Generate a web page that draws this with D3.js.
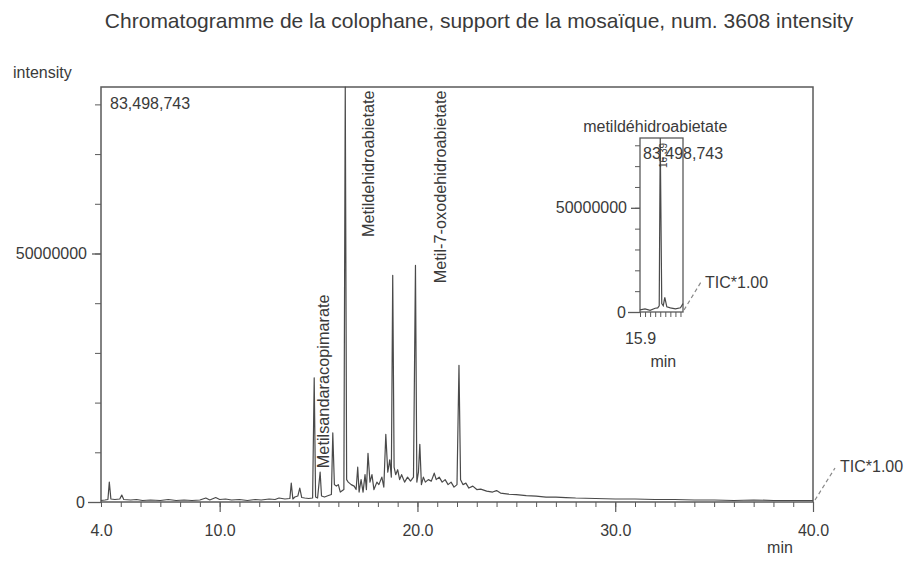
<!DOCTYPE html>
<html><head><meta charset="utf-8">
<script src="https://cdn.jsdelivr.net/npm/d3@7"></script>
<style>
html,body{margin:0;padding:0;background:#fff;}
svg{display:block;font-family:"Liberation Sans", Arial, Helvetica, sans-serif;}
</style></head><body>
<svg id="chart" width="906" height="566"></svg>
<script>
// ---------- DATA ----------
const titleText = "Chromatogramme de la colophane, support de la mosaïque, num. 3608 intensity";
const yAxisTitle = "intensity";
const xAxisTitle = "min";
const maxLabel = "83,498,743";
const ticLabel = "TIC*1.00";

// retention time (min)
const times = [4.0,4.2,4.35,4.42,4.5,4.7,4.95,5.05,5.15,5.5,5.8,6.1,6.5,7.0,7.4,7.8,8.2,8.6,9.0,9.3,9.5,9.8,10.0,10.3,10.6,11.0,11.4,11.8,12.1,12.5,12.8,13.0,13.3,13.55,13.62,13.7,13.8,13.95,14.05,14.15,14.3,14.5,14.7,14.78,14.85,14.95,15.08,15.15,15.3,15.5,15.65,15.72,15.8,15.9,16.0,16.1,16.28,16.35,16.42,16.5,16.65,16.8,16.9,16.98,17.05,17.15,17.25,17.35,17.42,17.5,17.6,17.7,17.8,17.95,18.05,18.2,18.3,18.4,18.5,18.6,18.68,18.75,18.82,18.9,19.0,19.1,19.2,19.35,19.5,19.65,19.8,19.9,19.97,20.05,20.12,20.2,20.3,20.4,20.55,20.7,20.85,20.95,21.1,21.25,21.4,21.55,21.7,21.85,22.0,22.1,22.18,22.3,22.45,22.6,22.8,23.0,23.2,23.5,23.8,24.0,24.2,24.6,25.0,25.5,26.0,26.5,27.0,27.5,28.0,29.0,30.0,31.0,32.0,33.0,34.0,35.0,36.0,37.0,38.0,39.0,40.0];
// intensity (millions of counts)
const intensityM = [0.3,0.4,0.5,4.0,0.6,0.5,0.6,1.4,0.5,0.4,0.5,0.3,0.4,0.3,0.5,0.3,0.4,0.3,0.4,0.8,0.4,0.9,0.5,0.6,0.4,0.5,0.3,0.5,0.4,0.6,0.5,0.8,0.6,0.7,3.8,0.6,1.0,1.2,2.8,0.9,0.8,0.7,0.8,25.0,1.0,0.8,6.0,1.2,1.0,1.3,1.5,13.9,3.5,3.2,3.5,2.0,2.5,83.5,4.5,4.0,3.5,3.2,2.5,7.0,2.0,4.5,2.0,5.5,2.5,9.8,4.0,5.5,2.5,4.0,3.5,5.0,3.0,13.6,6.0,8.5,5.0,45.6,7.0,5.5,6.5,4.5,5.5,4.0,5.0,4.2,5.0,47.6,4.0,6.0,11.6,3.5,5.0,4.0,4.5,4.2,5.8,4.5,5.0,4.0,4.5,3.5,4.0,3.0,3.5,27.5,4.5,3.5,3.8,2.8,3.2,2.5,2.6,2.2,2.0,2.3,1.8,1.6,1.5,1.3,1.2,1.0,1.0,0.9,0.8,0.7,0.6,0.6,0.5,0.5,0.4,0.4,0.3,0.4,0.3,0.3,0.3];

const xLabelTicks = [4, 10, 20, 30, 40];
const xMinorTicks = [4,5,6,7,8,9,10,11,12,13,14,15,16,17,18,19,20,21,22,23,24,25,26,27,28,29,30,31,32,33,34,35,36,37,38,39,40];
const yTicksM = [0, 10, 20, 30, 40, 50, 60, 70, 80];
const yLabelTicksM = [0, 50];

// peak annotations
const peakNames = ["Metilsandaracopimarate", "Metildehidroabietate", "Metil-7-oxodehidroabietate"];
const peakLabelTimes = [15.53, 17.8, 21.45];
const peakLabelIntensity = [6.8, 53.3, 44.0];

// inset (zoom on main peak)
const insetTitle = "metildéhidroabietate";
const insetPeakLabel = "16.39";
const insetTimes = [15.9,16.0,16.1,16.2,16.25,16.28,16.3,16.33,16.36,16.39,16.43,16.5,16.6,16.7,16.75];
const insetIntensityM = [1.0,1.5,0.8,1.8,2.0,3.0,83.5,4.0,3.0,7.0,2.5,2.0,1.5,2.0,4.0];
const insetXMinor = [15.9,16.0,16.1,16.2,16.3,16.4,16.5,16.6,16.7];
const insetXLabel = [15.9];

// ---------- DRAW ----------
const svg = d3.select("#chart");
const ink = "#3a3a3a", lineC = "#4a4a4a", axisC = "#5a5a5a";
const FONT = "Liberation Sans, Arial, sans-serif";
const fmt = d => d === 0 ? "0" : String(d * 1e6);

svg.append("text").attr("x", 479).attr("y", 28).attr("text-anchor", "middle")
  .attr("font-size", 21).attr("fill", ink).text(titleText);
svg.append("text").attr("x", 13).attr("y", 78).attr("font-size", 16).attr("fill", ink).text(yAxisTitle);
svg.append("text").attr("x", 780).attr("y", 553).attr("text-anchor", "middle").attr("font-size", 16).attr("fill", ink).text(xAxisTitle);

const x = d3.scaleLinear().domain([4, 40]).range([101, 813]);
const y = d3.scaleLinear().domain([0, 83.498743]).range([502, 87]);

// frame
svg.append("rect").attr("x", x(4)).attr("y", y(83.498743)).attr("width", x(40) - x(4)).attr("height", y(0) - y(83.498743))
  .attr("fill", "none").attr("stroke", axisC).attr("stroke-width", 1.5);

// x ticks
const xAx = svg.append("g").attr("transform", `translate(0,${y(0)})`);
xAx.call(d3.axisBottom(x).tickValues(xMinorTicks).tickSize(5).tickFormat(""));
xAx.call(g => g.select(".domain").remove());
xAx.selectAll("line").attr("stroke", axisC);
const xAx2 = svg.append("g").attr("transform", `translate(0,${y(0)})`);
xAx2.call(d3.axisBottom(x).tickValues(xLabelTicks).tickSize(10).tickPadding(13).tickFormat(d3.format(".1f")));
xAx2.call(g => g.select(".domain").remove());
xAx2.selectAll("line").attr("stroke", axisC).attr("stroke-width", 1.2);
xAx2.selectAll("text").attr("font-size", 16).attr("fill", ink).attr("font-family", FONT);
xAx2.selectAll(".tick").filter(d => d === 4).select("line").remove();

// y ticks
const yAx = svg.append("g").attr("transform", `translate(${x(4)},0)`);
yAx.call(d3.axisLeft(y).tickValues(yTicksM).tickSize(6).tickFormat(""));
yAx.call(g => g.select(".domain").remove());
yAx.selectAll("line").attr("stroke", axisC);
const yAx2 = svg.append("g").attr("transform", `translate(${x(4)},0)`);
yAx2.call(d3.axisLeft(y).tickValues(yLabelTicksM).tickSize(9).tickPadding(5).tickFormat(fmt));
yAx2.call(g => g.select(".domain").remove());
yAx2.selectAll("line").attr("stroke", axisC).attr("stroke-width", 1.3);
yAx2.selectAll(".tick").filter(d => d === 0).select("line").attr("x2", -13);
yAx2.selectAll(".tick").filter(d => d === 0).select("text").attr("x", -16);
yAx2.selectAll("text").attr("font-size", 16).attr("fill", ink).attr("font-family", FONT);

// trace
const pts = times.map((t, i) => [t, intensityM[i]]);
svg.append("path").datum(pts)
  .attr("d", d3.line().x(d => x(d[0])).y(d => y(d[1])))
  .attr("fill", "none").attr("stroke", lineC).attr("stroke-width", 1.2).attr("stroke-linejoin", "round");

// max label
svg.append("text").attr("x", x(4) + 9).attr("y", y(83.498743) + 22).attr("font-size", 16).attr("fill", ink).text(maxLabel);

// peak labels (rotated)
peakNames.forEach((n, i) => {
  const px = x(peakLabelTimes[i]), py = y(peakLabelIntensity[i]);
  svg.append("text").attr("transform", `translate(${px},${py}) rotate(-90)`)
    .attr("font-size", 16.3).attr("fill", ink).text(n);
});

// TIC dashed
svg.append("line").attr("x1", x(40) + 2).attr("y1", y(0) - 2).attr("x2", x(40) + 22).attr("y2", y(0) - 34)
  .attr("stroke", "#888").attr("stroke-width", 1.2).attr("stroke-dasharray", "4,3");
svg.append("text").attr("x", x(40) + 27).attr("y", y(0) - 30).attr("font-size", 16).attr("fill", ink).text(ticLabel);

// ---------- INSET ----------
const xi = d3.scaleLinear().domain([15.9, 16.75]).range([640, 683]);
const yi = d3.scaleLinear().domain([0, 83.498743]).range([312, 138]);
svg.append("rect").attr("x", xi(15.9)).attr("y", yi(83.498743)).attr("width", xi(16.75) - xi(15.9)).attr("height", yi(0) - yi(83.498743))
  .attr("fill", "none").attr("stroke", axisC).attr("stroke-width", 1.3);
const ixAx = svg.append("g").attr("transform", `translate(0,${yi(0)})`);
ixAx.call(d3.axisBottom(xi).tickValues(insetXMinor).tickSize(5).tickFormat(""));
ixAx.call(g => g.select(".domain").remove());
ixAx.selectAll("line").attr("stroke", axisC);
const ixAx2 = svg.append("g").attr("transform", `translate(0,${yi(0)})`);
ixAx2.call(d3.axisBottom(xi).tickValues(insetXLabel).tickSize(0).tickPadding(21).tickFormat(d3.format(".1f")));
ixAx2.call(g => g.select(".domain").remove());
ixAx2.selectAll("text").attr("font-size", 16).attr("fill", ink).attr("font-family", FONT);

const iyAx = svg.append("g").attr("transform", `translate(${xi(15.9)},0)`);
iyAx.call(d3.axisLeft(yi).tickValues(yTicksM).tickSize(5).tickFormat(""));
iyAx.call(g => g.select(".domain").remove());
iyAx.selectAll("line").attr("stroke", axisC);
const iyAx2 = svg.append("g").attr("transform", `translate(${xi(15.9)},0)`);
iyAx2.call(d3.axisLeft(yi).tickValues(yLabelTicksM).tickSize(9).tickPadding(4).tickFormat(fmt));
iyAx2.call(g => g.select(".domain").remove());
iyAx2.selectAll("line").attr("stroke", axisC).attr("stroke-width", 1.3);
iyAx2.selectAll(".tick").filter(d => d === 0).select("line").attr("x2", -12);
iyAx2.selectAll(".tick").filter(d => d === 0).select("text").attr("x", -14);
iyAx2.selectAll("text").attr("font-size", 16).attr("fill", ink).attr("font-family", FONT);

const ipts = insetTimes.map((t, i) => [t, insetIntensityM[i]]);
svg.append("path").datum(ipts)
  .attr("d", d3.line().x(d => xi(d[0])).y(d => yi(d[1])))
  .attr("fill", "none").attr("stroke", lineC).attr("stroke-width", 1.2);

svg.append("text").attr("x", xi(16.3) - 5).attr("y", yi(83.498743) - 6).attr("text-anchor", "middle")
  .attr("font-size", 16).attr("fill", ink).text(insetTitle);
svg.append("text").attr("x", xi(15.9) + 3).attr("y", yi(83.498743) + 21).attr("font-size", 16).attr("fill", ink).text(maxLabel);
svg.append("text").attr("transform", `translate(${xi(16.43)},${yi(83.498743) + 30}) rotate(-90)`)
  .attr("font-size", 10).attr("fill", ink).text(insetPeakLabel);
svg.append("text").attr("x", xi(16.36)).attr("y", 367).attr("text-anchor", "middle").attr("font-size", 16).attr("fill", ink).text(xAxisTitle);

svg.append("line").attr("x1", xi(16.75) + 1).attr("y1", yi(0) - 2).attr("x2", xi(16.75) + 18).attr("y2", yi(0) - 30)
  .attr("stroke", "#888").attr("stroke-width", 1.2).attr("stroke-dasharray", "4,3");
svg.append("text").attr("x", xi(16.75) + 22).attr("y", yi(0) - 24).attr("font-size", 16).attr("fill", ink).text(ticLabel);
</script>
</body></html>
